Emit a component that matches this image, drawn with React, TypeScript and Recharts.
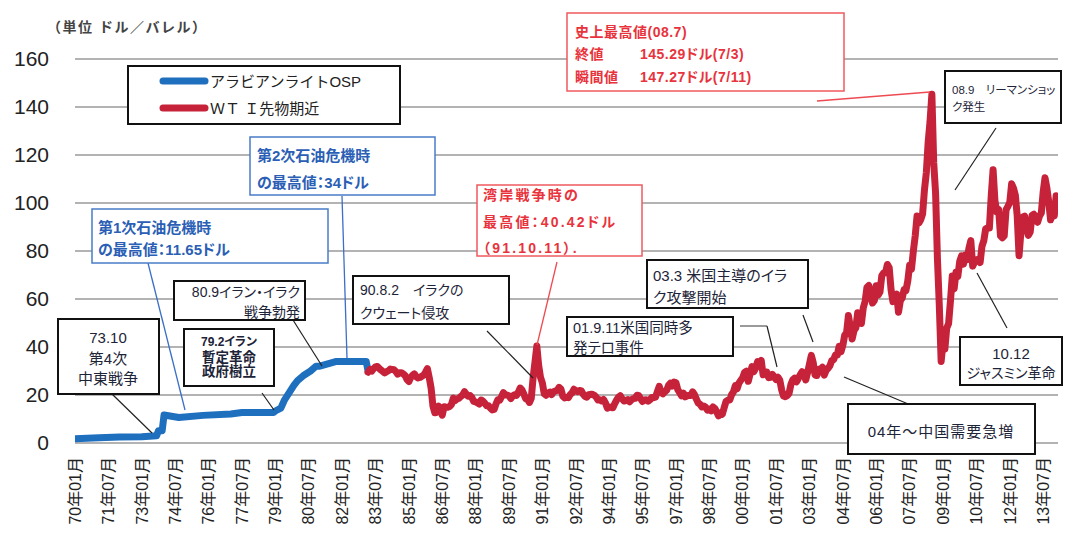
import { CartesianGrid, Line, LineChart, XAxis, YAxis } from "recharts";

const W = 1066;
const H = 546;
const FONT = "'Liberation Sans', Arial, 'Noto Sans CJK JP', sans-serif";

// Arabian Light OSP (USD/bbl), official price changes
const OSP_MONTHS = [
  "1970-01", "1971-02", "1972-01", "1973-01", "1973-09", "1973-10", "1973-12", "1974-01",
  "1974-09", "1975-10", "1977-01", "1977-07", "1978-12", "1979-01", "1979-04", "1979-06",
  "1979-11", "1980-01", "1980-04", "1980-08", "1980-11", "1981-01", "1981-10", "1983-02", "1983-03",
];
const OSP_VALUES = [
  1.8, 2.18, 2.48, 2.59, 3.01, 5.12, 5.12, 11.65,
  10.6, 11.51, 12.09, 12.7, 12.7, 13.34, 14.55, 18.0,
  24.0, 26.0, 28.0, 30.0, 32.0, 32.0, 34.0, 34.0, 30.0,
];

// WTI front month, monthly from 1983-03
const WTI_START = "1983-03";
const WTI_VALUES = [
  29.5, 30.6, 30.0, 31.0, 31.7, 31.9, 31.1, 30.4, 29.8, 29.2,
  29.7, 30.1, 30.8, 30.6, 30.5, 29.8, 28.7, 29.3, 29.3, 28.8, 28.1, 26.5,
  25.6, 27.3, 28.2, 28.8, 27.6, 27.1, 27.3, 27.8, 28.3, 29.5, 31.0, 27.2,
  22.9, 15.4, 12.6, 12.8, 15.4, 13.5, 11.6, 15.1, 14.9, 14.9, 15.2, 16.1,
  18.7, 17.7, 18.3, 18.6, 19.4, 20.0, 21.4, 20.3, 19.5, 19.8, 18.9, 17.3,
  17.1, 16.7, 16.2, 17.9, 17.4, 16.5, 15.5, 15.5, 14.5, 13.8, 14.0, 16.3,
  18.0, 17.8, 19.4, 21.0, 20.0, 20.0, 19.6, 18.5, 19.6, 20.1, 19.8, 21.1,
  22.9, 22.1, 20.4, 18.4, 18.2, 16.9, 18.6, 27.2, 33.7, 40.4, 32.3, 27.3,
  25.0, 20.5, 19.9, 20.8, 21.2, 20.2, 21.4, 21.7, 21.9, 23.2, 22.5, 19.5,
  18.8, 19.0, 18.9, 20.2, 20.9, 22.4, 21.8, 21.4, 21.9, 21.7, 20.3, 19.4,
  19.1, 20.1, 20.3, 20.3, 19.9, 19.1, 17.9, 18.0, 17.5, 18.1, 16.7, 14.5,
  15.0, 14.8, 14.7, 16.4, 17.9, 19.1, 19.7, 18.4, 17.5, 17.7, 18.1, 17.2,
  18.0, 18.5, 18.6, 19.9, 19.7, 18.4, 17.3, 17.9, 18.0, 17.4, 18.0, 19.0,
  18.9, 19.1, 21.4, 23.6, 21.2, 20.5, 21.3, 22.0, 24.0, 24.9, 23.7, 25.4,
  25.2, 22.2, 21.0, 19.7, 20.8, 19.2, 19.6, 19.9, 19.8, 21.3, 20.2, 18.3,
  16.7, 16.1, 15.0, 15.4, 14.9, 13.7, 14.1, 13.4, 15.0, 14.4, 12.9, 11.3,
  12.5, 12.0, 14.7, 17.3, 17.8, 17.9, 20.1, 21.3, 23.9, 22.6, 25.0, 26.1,
  27.2, 29.4, 29.9, 25.7, 28.8, 31.8, 29.7, 31.2, 33.9, 33.1, 34.4, 28.4,
  29.6, 29.6, 27.2, 27.4, 28.6, 27.6, 26.4, 27.4, 26.2, 22.2, 19.6, 19.3,
  19.7, 20.7, 24.4, 26.3, 27.0, 25.5, 26.9, 28.4, 29.7, 28.9, 26.3, 29.4,
  32.9, 36.5, 33.6, 28.3, 28.1, 30.7, 30.8, 31.6, 28.3, 30.3, 31.1, 32.1,
  34.3, 34.7, 36.7, 36.7, 40.3, 38.0, 40.7, 44.9, 45.9, 53.1, 48.5, 43.3,
  46.8, 48.0, 54.3, 53.0, 49.8, 56.3, 59.0, 64.9, 65.6, 62.4, 58.3, 59.4,
  65.5, 61.6, 62.9, 69.7, 70.9, 70.9, 74.4, 73.0, 63.8, 58.9, 59.4, 62.0,
  54.5, 59.3, 60.4, 63.9, 63.5, 67.5, 74.1, 72.4, 79.9, 86.2, 94.6, 91.7,
  93.0, 95.4, 105.5, 112.6, 125.4, 133.9, 145.3, 116.7, 104.1, 76.6, 57.3, 34.0,
  41.7, 39.1, 47.9, 49.7, 59.0, 69.6, 64.2, 71.1, 69.4, 75.7, 78.0, 74.5,
  78.3, 76.4, 81.2, 84.3, 73.7, 75.3, 76.3, 76.6, 75.2, 81.9, 84.3, 89.2,
  89.6, 89.6, 102.9, 113.9, 100.9, 96.3, 97.3, 86.3, 85.5, 86.3, 97.2, 98.6,
  100.3, 108.0, 106.2, 103.3, 94.7, 78.0, 87.9, 94.1, 94.5, 89.5, 86.5, 87.9,
  94.8, 95.3, 92.9, 92.0, 94.5, 95.8, 104.6, 110.5, 106.3, 100.5, 93.0, 97.6,
  94.6, 103.0,
];

const X_TICK_LABELS = [
  "70年01月", "71年07月", "73年01月", "74年07月", "76年01月", "77年07月", "79年01月", "80年07月",
  "82年01月", "83年07月", "85年01月", "86年07月", "88年01月", "89年07月", "91年01月", "92年07月",
  "94年01月", "95年07月", "97年01月", "98年07月", "00年01月", "01年07月", "03年01月", "04年07月",
  "06年01月", "07年07月", "09年01月", "10年07月", "12年01月", "13年07月",
];
const Y_TICKS = [0, 20, 40, 60, 80, 100, 120, 140, 160];

const monthIndex = (s: string) => {
  const [y, m] = s.split("-").map(Number);
  return (y - 1970) * 12 + (m - 1);
};

const ospData = OSP_MONTHS.map((m, i) => ({ t: monthIndex(m), v: OSP_VALUES[i] }));
const wtiFirst = monthIndex(WTI_START);
const wtiData = WTI_VALUES.map((v, i) => ({ t: wtiFirst + i, v }));
const xTicks = X_TICK_LABELS.map((_, i) => i * 18);

const BLUE = "#1f6fbf";
const RED = "#c6223a";

// annotation boxes (pixel layout)
type Txt = [string, number, number, ("start" | "middle" | "end")?, number?];
type Note = {
  box: [number, number, number, number];
  texts: Txt[];
  color: string;
  border: string;
  size: number;
  bold?: boolean;
  ls?: number;
  bw?: number;
};

const NOTES: Note[] = [
  { box: [250, 137, 185, 58], color: "#2b5fb5", border: "#4a7cc9", size: 15, bold: true, bw: 1.5,
    texts: [["第2次石油危機時", 257, 155], ["の最高値：34ドル", 257, 182]] },
  { box: [92, 209, 236, 54], color: "#2b5fb5", border: "#4a7cc9", size: 15, bold: true, bw: 1.5,
    texts: [["第1次石油危機時", 98, 227], ["の最高値：11.65ドル", 98, 249]] },
  { box: [58, 319, 101, 75], color: "#1d2438", border: "#111", size: 15,
    texts: [["73.10", 108, 337, "middle"], ["第4次", 108, 358, "middle"], ["中東戦争", 108, 378, "middle"]] },
  { box: [184, 329, 90, 57], color: "#1d2438", border: "#111", size: 13.5, bold: true,
    texts: [["79.2イラン", 229, 342, "middle", 12], ["暫定革命", 229, 357, "middle"], ["政府樹立", 229, 371, "middle"]] },
  { box: [174, 281, 131, 39], color: "#1d2438", border: "#111", size: 14,
    texts: [["80.9イラン・イラク", 300, 292, "end"], ["戦争勃発", 300, 312, "end"]] },
  { box: [353, 276, 156, 48], color: "#1d2438", border: "#111", size: 14,
    texts: [["90.8.2　イラクの", 360, 290], ["クウェート侵攻", 360, 313]] },
  { box: [477, 185, 165, 71], color: "#e8333d", border: "#f05a60", size: 14, bold: true, ls: 2.2, bw: 1.5,
    texts: [["湾岸戦争時の", 483, 195], ["最高値：40.42ドル", 483, 222], ["（91.10.11）.", 483, 248]] },
  { box: [567, 13, 277, 78], color: "#e8333d", border: "#f05a60", size: 14, bold: true, ls: 0.5, bw: 1.5,
    texts: [["史上最高値(08.7)", 575, 32], ["終値", 575, 54], ["145.29ドル(7/3)", 640, 54],
      ["瞬間値", 575, 77], ["147.27ドル(7/11)", 640, 77]] },
  { box: [945, 71, 116, 52], color: "#1d2438", border: "#111", size: 11.5,
    texts: [["08.9　リーマンショッ", 952, 90], ["ク発生", 952, 107]] },
  { box: [647, 260, 161, 48], color: "#1d2438", border: "#111", size: 15,
    texts: [["03.3 米国主導のイラ", 653, 275], ["ク攻撃開始", 653, 297]] },
  { box: [567, 317, 166, 39], color: "#1d2438", border: "#111", size: 14.5,
    texts: [["01.9.11米国同時多", 573, 328], ["発テロ事件", 573, 348]] },
  { box: [960, 337, 102, 48], color: "#1d2438", border: "#111", size: 14,
    texts: [["10.12", 1011, 353, "middle", 15], ["ジャスミン革命", 1011, 373, "middle"]] },
  { box: [848, 404, 187, 50], color: "#1d2438", border: "#111", size: 15, ls: 1,
    texts: [["04年～中国需要急増", 941, 431, "middle"]] },
];

type Leader = { pts: [number, number][]; color: string; w: number };
const LEADERS: Leader[] = [
  { pts: [[148, 263], [185, 410]], color: "#3b6fc8", w: 1.3 },
  { pts: [[342, 196], [347, 358]], color: "#3b6fc8", w: 1.3 },
  { pts: [[112, 394], [152, 433]], color: "#222", w: 1.2 },
  { pts: [[262, 393], [274, 410]], color: "#222", w: 1.2 },
  { pts: [[293, 320], [322, 366]], color: "#222", w: 1.2 },
  { pts: [[487, 331], [533, 378]], color: "#222", w: 1.2 },
  { pts: [[557, 262], [537, 345]], color: "#ee4a52", w: 1.3 },
  { pts: [[817, 101], [930, 92]], color: "#ee4a52", w: 1.3 },
  { pts: [[996, 128], [955, 190]], color: "#222", w: 1.2 },
  { pts: [[803, 315], [813, 342]], color: "#222", w: 1.2 },
  { pts: [[740, 326], [767, 326]], color: "#9a9a9a", w: 2 },
  { pts: [[767, 326], [777, 367]], color: "#222", w: 1.2 },
  { pts: [[1007, 328], [977, 273]], color: "#222", w: 1.2 },
  { pts: [[913, 406], [844, 377]], color: "#222", w: 1.2 },
];

function XTick({ x, y, payload }: any) {
  const label = X_TICK_LABELS[Math.round(payload.value / 18)];
  return (
    <text
      x={x}
      y={y}
      transform={`rotate(-90 ${x} ${y})`}
      textAnchor="end"
      dy="0.36em"
      fontSize={16}
      fill="#222"
      fontFamily={FONT}
    >
      {label}
    </text>
  );
}

function Overlay() {
  return (
    <svg width={W} height={H} style={{ position: "absolute", left: 0, top: 0, pointerEvents: "none" }}>
      <text x={47} y={27} fontSize={14} fontWeight="bold" fill="#444" fontFamily={FONT} letterSpacing={1.5} dominantBaseline="central">
        （単位 ドル／バレル）
      </text>
      {/* legend */}
      <rect x={128} y={66} width={272} height={58} fill="#fff" stroke="#111" strokeWidth={2} />
      <line x1={163} y1={81} x2={205} y2={81} stroke={BLUE} strokeWidth={7} strokeLinecap="round" />
      <line x1={163} y1={108} x2={205} y2={108} stroke={RED} strokeWidth={7} strokeLinecap="round" />
      <text x={210} y={81} fontSize={15} fill="#222" fontFamily={FONT} dominantBaseline="central">アラビアンライトOSP</text>
      <text x={210} y={108} fontSize={15} fill="#222" fontFamily={FONT} dominantBaseline="central">ＷＴ Ｉ先物期近</text>
      {LEADERS.map((l, i) => (
        <polyline key={i} points={l.pts.map((p) => p.join(",")).join(" ")} fill="none" stroke={l.color} strokeWidth={l.w} />
      ))}
      {NOTES.map((n, i) => (
        <g key={i}>
          <rect x={n.box[0]} y={n.box[1]} width={n.box[2]} height={n.box[3]} fill="#fff" stroke={n.border} strokeWidth={n.bw ?? 2} />
          {n.texts.map(([s, x, y, a, sz], j) => (
            <text
              key={j}
              x={x}
              y={y}
              textAnchor={a ?? "start"}
              dominantBaseline="central"
              fontSize={sz ?? n.size}
              fontWeight={n.bold ? "bold" : "normal"}
              fill={n.color}
              fontFamily={FONT}
              letterSpacing={n.ls ?? 0}
              style={{ fontFeatureSettings: '"palt"' }}
            >
              {s}
            </text>
          ))}
        </g>
      ))}
    </svg>
  );
}

export default function App() {
  return (
    <div style={{ position: "absolute", left: 0, top: 0, width: W, height: H, background: "#fff", fontFamily: FONT }}>
      <LineChart width={W} height={H} margin={{ top: 59, right: 8, bottom: 0, left: 0 }}>
        <CartesianGrid horizontal vertical={false} stroke="#9a9a9a" strokeWidth={1.5} />
        <XAxis
          type="number"
          dataKey="t"
          domain={[0, 530]}
          ticks={xTicks}
          interval={0}
          height={103}
          axisLine={false}
          tickLine={false}
          tickSize={0}
          tickMargin={14}
          tick={<XTick />}
          allowDataOverflow
        />
        <YAxis
          type="number"
          domain={[0, 160]}
          ticks={Y_TICKS}
          width={75}
          axisLine={false}
          tickLine={false}
          tickSize={0}
          tickMargin={26}
          tick={{ fontSize: 21, fill: "#222", fontFamily: FONT }}
        />
        <Line
          data={ospData}
          dataKey="v"
          type="linear"
          stroke={BLUE}
          strokeWidth={7}
          strokeLinejoin="round"
          strokeLinecap="round"
          dot={false}
          isAnimationActive={false}
        />
        <Line
          data={wtiData}
          dataKey="v"
          type="linear"
          stroke={RED}
          strokeWidth={7}
          strokeLinejoin="round"
          strokeLinecap="round"
          dot={false}
          isAnimationActive={false}
        />
      </LineChart>
      <Overlay />
    </div>
  );
}
